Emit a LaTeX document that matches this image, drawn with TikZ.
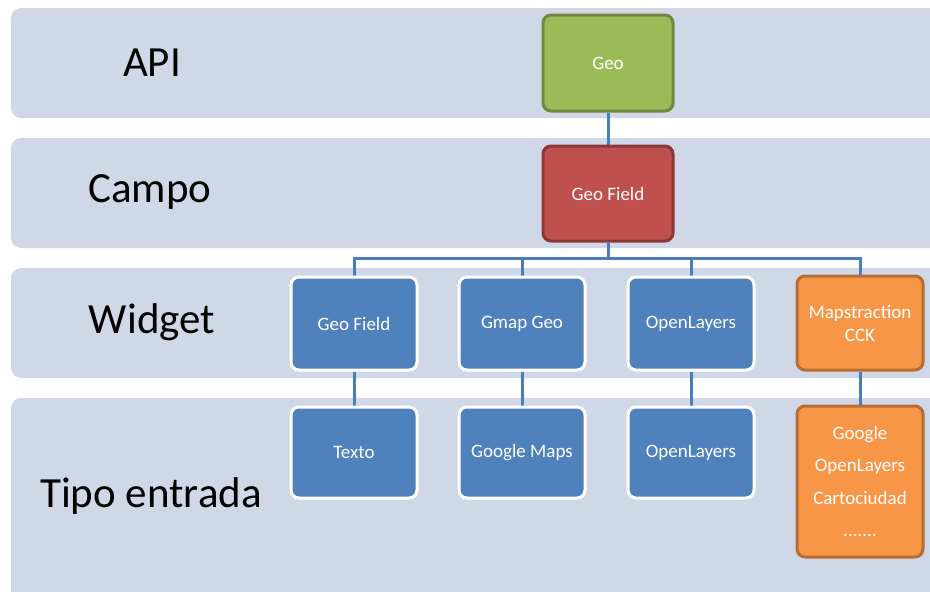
\documentclass[tikz,border=0pt]{standalone}
\usepackage{fontspec}
\setmainfont{Carlito}
\usetikzlibrary{backgrounds}
\definecolor{bandc}{HTML}{D0D8E8}
\definecolor{bluef}{HTML}{4F81BD}
\definecolor{lineb}{HTML}{4A7EBB}
\definecolor{greenf}{HTML}{9BBB59}
\definecolor{greend}{HTML}{71893F}
\definecolor{redf}{HTML}{C0504D}
\definecolor{redd}{HTML}{8C3836}
\definecolor{orangef}{HTML}{F79646}
\definecolor{oranged}{HTML}{B66D31}
\tikzset{
  band/.style={fill=bandc, draw=none, rounded corners=10pt},
  lbl/.style={font=\fontsize{43}{50}\selectfont, text=black, inner sep=0pt},
  boxbase/.style={rectangle, rounded corners=8pt, line width=3pt, text=white,
    font=\fontsize{19}{22}\selectfont, align=center, inner sep=2pt},
  bluebox/.style={boxbase, fill=bluef, draw=white, minimum width=126pt, minimum height=93pt},
  greenbox/.style={boxbase, fill=greenf, draw=greend, minimum width=130pt, minimum height=96pt},
  redbox/.style={boxbase, fill=redf, draw=redd, minimum width=130pt, minimum height=95pt},
  orangebox/.style={boxbase, fill=orangef, draw=oranged, minimum width=126pt},
  conn/.style={draw=lineb, line width=3pt}
}
\begin{document}
\begin{tikzpicture}[x=1pt,y=-1pt]
\useasboundingbox (0,0) rectangle (930,592);
% nodes
\node[greenbox] (geo) at (608,63) {Geo};
\node[redbox] (gf) at (608,193.5) {Geo Field};
\node[bluebox] (w1) at (354,323.5) {Geo Field};
\node[bluebox] (w2) at (522,323.5) {Gmap Geo};
\node[bluebox] (w3) at (691,323.5) {OpenLayers};
\node[orangebox, minimum height=94pt, font=\fontsize{19}{23}\selectfont] (w4) at (860,323) {Mapstraction\\CCK};
\node[bluebox, minimum height=91pt] (t1) at (354,452.5) {Texto};
\node[bluebox, minimum height=91pt] (t2) at (522,452.5) {Google Maps};
\node[bluebox, minimum height=91pt] (t3) at (691,452.5) {OpenLayers};
\node[orangebox, minimum height=151pt, font=\fontsize{19}{32.5}\selectfont] (t4) at (860,481.5) {Google\\OpenLayers\\Cartociudad\\.......};
\coordinate (bus) at (608,258);
\begin{scope}[on background layer]
  \fill[band] (11,8) rectangle (945,118);
  \fill[band] (11,138) rectangle (945,248);
  \fill[band] (11,268) rectangle (945,378);
  \fill[band] (11,398) rectangle (945,610);
  \draw[conn] (geo) -- (gf);
  \draw[conn] (gf) -- (bus);
  \draw[conn] (bus) -| (w1);
  \draw[conn] (bus) -| (w2);
  \draw[conn] (bus) -| (w3);
  \draw[conn] (bus) -| (w4);
  \draw[conn] (w1) -- (t1);
  \draw[conn] (w2) -- (t2);
  \draw[conn] (w3) -- (t3);
  \draw[conn] (w4) -- (t4);
\end{scope}
\node[lbl] (lapi) at (152,63) {API};
\node[lbl] (lcampo) at (150,192) {Campo};
\node[lbl] (lwidget) at (152,322) {Widget};
\node[lbl] (ltipo) at (151,496) {Tipo entrada};
\end{tikzpicture}
\end{document}
